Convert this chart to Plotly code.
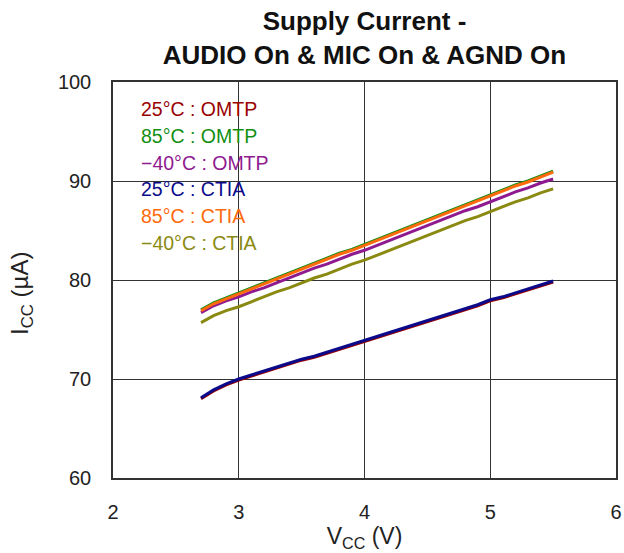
import plotly.graph_objects as go

vcc = [2.7, 2.8, 2.9, 3.0, 3.1, 3.2, 3.3, 3.4, 3.5, 3.6, 3.7, 3.8, 3.9, 4.0, 4.1,
       4.2, 4.3, 4.4, 4.5, 4.6, 4.7, 4.8, 4.9, 5.0, 5.1, 5.2, 5.3, 5.4, 5.5]

omtp_25 = [68.0, 68.8, 69.4, 69.9, 70.3, 70.7, 71.1, 71.5, 71.9, 72.2, 72.6, 73.0, 73.4, 73.8, 74.2,
           74.6, 75.0, 75.4, 75.8, 76.2, 76.6, 77.0, 77.4, 77.9, 78.2, 78.6, 79.0, 79.4, 79.8]
omtp_85 = [77.0, 77.7, 78.2, 78.7, 79.2, 79.7, 80.2, 80.7, 81.2, 81.7, 82.2, 82.7, 83.1, 83.6, 84.1,
           84.6, 85.1, 85.6, 86.1, 86.6, 87.1, 87.6, 88.1, 88.6, 89.1, 89.6, 90.0, 90.5, 91.0]
omtp_m40 = [76.7, 77.4, 77.9, 78.3, 78.8, 79.2, 79.7, 80.2, 80.7, 81.2, 81.6, 82.1, 82.6, 83.0, 83.5,
            84.0, 84.5, 85.0, 85.5, 86.0, 86.5, 87.0, 87.4, 87.9, 88.4, 88.9, 89.3, 89.8, 90.2]
ctia_25 = [68.1, 68.9, 69.5, 70.0, 70.4, 70.8, 71.2, 71.6, 72.0, 72.3, 72.7, 73.1, 73.5, 73.9, 74.3,
           74.7, 75.1, 75.5, 75.9, 76.3, 76.7, 77.1, 77.5, 78.0, 78.3, 78.7, 79.1, 79.5, 79.9]
ctia_85 = [76.9, 77.6, 78.1, 78.6, 79.1, 79.6, 80.1, 80.6, 81.1, 81.6, 82.1, 82.6, 83.0, 83.5, 84.0,
           84.5, 85.0, 85.5, 86.0, 86.5, 87.0, 87.5, 88.0, 88.5, 89.0, 89.5, 89.9, 90.4, 90.9]
ctia_m40 = [75.7, 76.4, 76.9, 77.3, 77.8, 78.3, 78.8, 79.2, 79.7, 80.2, 80.6, 81.1, 81.6, 82.0, 82.5,
            83.0, 83.5, 84.0, 84.5, 85.0, 85.5, 86.0, 86.4, 86.9, 87.4, 87.9, 88.3, 88.8, 89.2]

series_names = ["25°C : OMTP", "85°C : OMTP", "\u221240°C : OMTP",
                "25°C : CTIA", "85°C : CTIA", "\u221240°C : CTIA"]
series_values = [omtp_25, omtp_85, omtp_m40, ctia_25, ctia_85, ctia_m40]
series_colors = ["#990000", "#138f13", "#8f1a8f", "#0a0a8a", "#ff6a0e", "#8a8a12"]

x_ticks = [2, 3, 4, 5, 6]
y_ticks = [60, 70, 80, 90, 100]

FONT = "Liberation Sans, Arial, sans-serif"

L, R, T, B = 113, 616, 82, 478
PW, PH = R - L, B - T

fig = go.Figure()
for name, vals, col in zip(series_names, series_values, series_colors):
    fig.add_trace(go.Scatter(x=vcc, y=vals, mode="lines", name=name,
                             line=dict(color=col, width=3), showlegend=False))

# legend box (text only)
fig.add_shape(type="rect", xref="paper", yref="paper",
              x0=(135 - L) / PW, x1=(277 - L) / PW,
              y0=(B - 260) / PH, y1=(B - 93) / PH,
              fillcolor="white", line=dict(width=0), layer="between")
for i, (name, col) in enumerate(zip(series_names, series_colors)):
    ypix = 109 + i * 26.8
    fig.add_annotation(xref="paper", yref="paper", x=(139 - L) / PW,
                       y=(B - ypix) / PH, text=name, showarrow=False,
                       xanchor="left", yanchor="middle",
                       font=dict(family=FONT, size=19.5, color=col))

# y axis title
fig.add_annotation(xref="paper", yref="paper", x=(21 - L) / PW, y=(B - 294) / PH,
                   text="I<sub>CC</sub> (µA)", textangle=-90, showarrow=False,
                   xanchor="center", yanchor="middle",
                   font=dict(family=FONT, size=24, color="#222"))

axis_common = dict(showline=True, linecolor="#333333", linewidth=1.5, mirror=True,
                   showgrid=True, gridcolor="#333333", gridwidth=1.3, automargin=False,
                   zeroline=False, ticks="", tickfont=dict(family=FONT, size=20, color="#222"))

fig.update_xaxes(range=[2, 6], tickvals=x_ticks, ticklabelstandoff=15,
                 title=dict(text="V<sub>CC</sub> (V)", font=dict(family=FONT, size=23, color="#222"),
                            standoff=3),
                 **axis_common)
fig.update_yaxes(range=[60, 100], tickvals=y_ticks, ticklabelstandoff=16,
                 **axis_common)

fig.update_layout(
    width=624, height=553,
    margin=dict(l=L, r=624 - R, t=T, b=553 - B, autoexpand=False),
    plot_bgcolor="white", paper_bgcolor="white",
    title=dict(text="<b>Supply Current -<br>AUDIO On & MIC On & AGND On</b>",
               x=(L + R) / 2 / 624, xanchor="center", y=1 - 30 / 553, yanchor="top",
               font=dict(family=FONT, size=26, color="#111")),
)

fig.write_html("out.html", config={"displayModeBar": False},
               post_script="document.body.style.margin='0';document.body.style.overflow='hidden';")
